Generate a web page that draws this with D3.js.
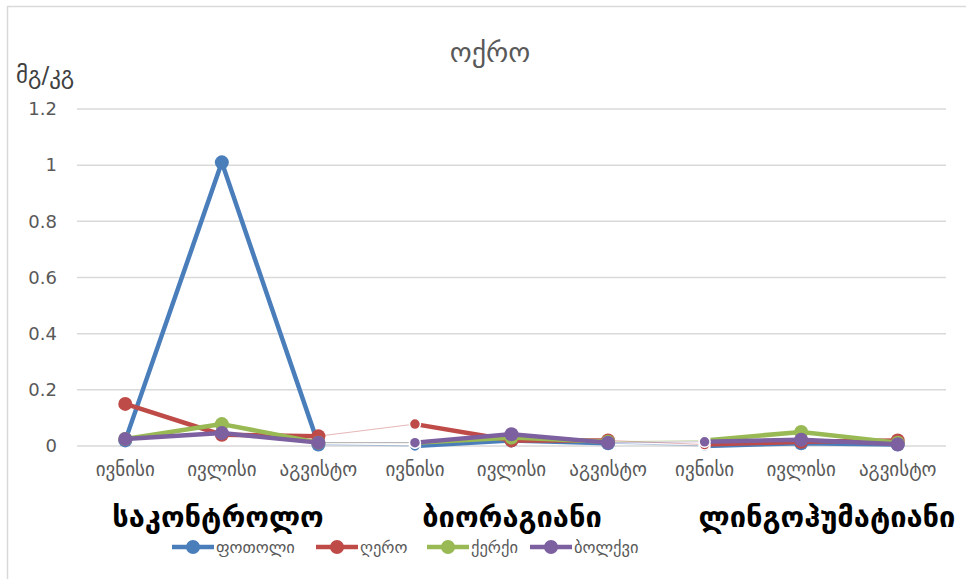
<!DOCTYPE html>
<html><head><meta charset="utf-8">
<script src="https://cdn.jsdelivr.net/npm/d3@7"></script>
<style>body{margin:0;background:#fff;} svg{display:block;}</style>
</head><body>
<script>
const groups = ["საკონტროლო", "ბიორაგიანი", "ლინგოჰუმატიანი"];
const months = ["ივნისი", "ივლისი", "აგვისტო"];
const seriesNames = ["ფოთოლი", "ღერო", "ქერქი", "ბოლქვი"];
const seriesColors = ["#4a7ebb", "#be4b48", "#98b954", "#7d60a0"];
const fotoli = [0.02, 1.01, 0.005, 0.0, 0.02, 0.01, 0.0, 0.01, 0.005];
const gero = [0.15, 0.04, 0.035, 0.078, 0.02, 0.02, 0.005, 0.015, 0.02];
const kerki = [0.025, 0.078, 0.012, 0.012, 0.03, 0.015, 0.02, 0.05, 0.012];
const bolkvi = [0.025, 0.046, 0.012, 0.012, 0.042, 0.012, 0.015, 0.022, 0.006];
const yTicks = [0, 0.2, 0.4, 0.6, 0.8, 1, 1.2];
const title = "ოქრო";
const unit = "მგ/კგ";

const values = [fotoli, gero, kerki, bolkvi];
const W = 966, H = 579;
const font = "'DejaVu Sans', sans-serif";
const svg = d3.select("body").append("svg").attr("width", W).attr("height", H);

svg.append("rect").attr("x", 7.5).attr("y", 6.5).attr("width", W + 10).attr("height", H + 10)
  .attr("fill", "none").attr("stroke", "#d9d9d9").attr("stroke-width", 1.5);

const cats = [];
groups.forEach((g, gi) => months.forEach((m, mi) => cats.push(gi * 3 + mi)));
const x = d3.scaleBand().domain(cats).range([77, 946]);
const y = d3.scaleLinear().domain([0, 1.2]).range([446, 109]);
const cx = i => x(i) + x.bandwidth() / 2;

// gridlines
svg.append("g").selectAll("line").data(yTicks).join("line")
  .attr("x1", 77).attr("x2", 946).attr("y1", d => y(d)).attr("y2", d => y(d))
  .attr("stroke", "#d9d9d9").attr("stroke-width", 1.5);

// y labels
const yAxis = d3.axisLeft(y).tickValues(yTicks).tickFormat(d => d === 0 ? "0" : d3.format("")(d)).tickSize(0).tickPadding(0);
const ya = svg.append("g").attr("transform", "translate(57,0)").call(yAxis);
ya.select(".domain").remove();
ya.selectAll("text").attr("font-family", font).attr("font-size", 18).attr("fill", "#595959");

// x month labels
const xAxis = d3.axisBottom(x).tickFormat(i => months[i % 3]).tickSize(0).tickPadding(0);
const xa = svg.append("g").attr("transform", "translate(0,462)").call(xAxis);
xa.select(".domain").remove();
xa.selectAll("text").attr("font-family", font).attr("font-size", 19).attr("fill", "#595959");

// group labels
svg.append("g").selectAll("text").data(groups).join("text")
  .attr("x", (d, gi) => [218, 512, 827][gi])
  .attr("y", 527).attr("text-anchor", "middle")
  .attr("font-family", font).attr("font-size", 29).attr("font-weight", "bold").attr("fill", "#000")
  .text(d => d);

// title & unit
svg.append("text").attr("x", 490).attr("y", 62).attr("text-anchor", "middle")
  .attr("font-family", font).attr("font-size", 28).attr("fill", "#595959").text(title);
svg.append("text").attr("x", 16).attr("y", 83)
  .attr("font-family", font).attr("font-size", 23).attr("fill", "#404040").text(unit);

// series
const line = d3.line().x(d => cx(d.i)).y(d => y(d.v));
values.forEach((vals, si) => {
  const col = seriesColors[si];
  const g = svg.append("g");
  const pts = vals.map((v, i) => ({i, v}));
  // thin connectors between groups
  for (let gi = 0; gi < 2; gi++) {
    g.append("path").datum([pts[gi * 3 + 2], pts[gi * 3 + 3]]).attr("d", line)
      .attr("fill", "none").attr("stroke", col).attr("stroke-width", 1).attr("opacity", 0.4);
  }
  for (let gi = 0; gi < 3; gi++) {
    g.append("path").datum(pts.slice(gi * 3, gi * 3 + 3)).attr("d", line)
      .attr("fill", "none").attr("stroke", col).attr("stroke-width", 4.5).attr("stroke-linejoin", "round");
  }
  g.selectAll("circle").data(pts).join("circle")
    .attr("cx", d => cx(d.i)).attr("cy", d => y(d.v))
    .attr("r", d => (d.i === 3 || d.i === 6) ? 5.5 : 7)
    .attr("fill", col)
    .attr("stroke", d => (d.i === 3 || d.i === 6) ? "#fff" : col)
    .attr("stroke-width", d => (d.i === 3 || d.i === 6) ? 1.5 : 0);
});

// legend
const legX = [172, 316, 427, 530];
const leg = svg.append("g");
seriesNames.forEach((n, si) => {
  const lx = legX[si];
  const gg = leg.append("g");
  gg.append("line").attr("x1", lx).attr("x2", lx + 42).attr("y1", 547).attr("y2", 547)
    .attr("stroke", seriesColors[si]).attr("stroke-width", 4.5);
  gg.append("circle").attr("cx", lx + 21).attr("cy", 547).attr("r", 7).attr("fill", seriesColors[si]);
  gg.append("text").attr("x", lx + 44).attr("y", 553).attr("font-family", font).attr("font-size", 16.5)
    .attr("fill", "#595959").text(n);
});
</script>
</body></html>
